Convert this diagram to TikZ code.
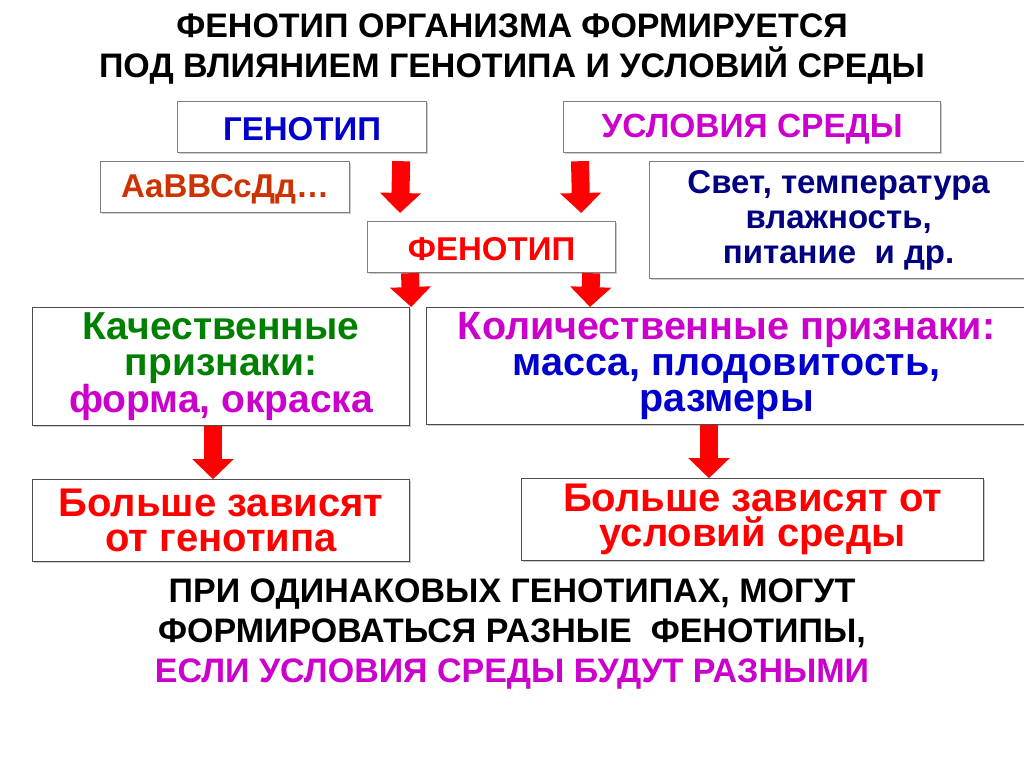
\documentclass[tikz,border=0pt]{standalone}
\usepackage{fontspec}
\setmainfont{Liberation Sans}
\usetikzlibrary{positioning,arrows.meta,shadows}

\definecolor{genblue}{RGB}{0,0,204}
\definecolor{envviolet}{RGB}{204,0,204}
\definecolor{allelebrown}{RGB}{204,51,0}
\definecolor{factornavy}{RGB}{0,0,128}
\definecolor{qualgreen}{RGB}{0,128,0}
\definecolor{phenred}{RGB}{255,0,0}

\tikzset{
  box/.style={draw=black!50, line width=1.2pt, fill=white, anchor=north west,
    inner sep=0pt, align=center,
    drop shadow={shadow xshift=1.2pt, shadow yshift=-1.2pt, fill=black!40}},
  darkbox/.style={box, draw=black!70},
  bigarrow/.style={draw=phenred, line width=18pt,
    -{Triangle[length=20pt,width=40pt]}},
  headline/.style={anchor=north, inner sep=0pt, align=center,
    font=\fontsize{34}{40}\selectfont\bfseries}
}

\begin{document}
\begin{tikzpicture}[x=1pt,y=-1pt]
  \useasboundingbox (0,0) rectangle (1024,767);
  \clip (0,0) rectangle (1024,767);
  \fill[white] (0,0) rectangle (1024,767);

  \node[headline] (title) at (512,14)
    {ФЕНОТИП ОРГАНИЗМА ФОРМИРУЕТСЯ\\ПОД ВЛИЯНИЕМ ГЕНОТИПА И УСЛОВИЙ СРЕДЫ};

  % top row
  \node[box, minimum width=249pt, minimum height=51pt, text=genblue, text height=28pt,
    font=\fontsize{33}{40}\selectfont\bfseries] (gen) at (177,101) {ГЕНОТИП};
  \node[box, minimum width=377pt, minimum height=51pt, text=envviolet, text height=28pt,
    font=\fontsize{33.5}{40}\selectfont\bfseries] (env) at (563,101) {УСЛОВИЯ СРЕДЫ};
  \node[box, minimum width=249pt, minimum height=51pt, text=allelebrown, text height=28pt,
    font=\fontsize{33}{40}\selectfont\bfseries] (alleles) at (100,161) {АаВВСсДд…};
  \node[box, minimum width=378pt, minimum height=117pt, text=factornavy,
    font=\fontsize{33}{35}\selectfont\bfseries] (factors) at (649,161)
    {Свет, температура\\влажность,\\питание~~и др.};
  \node[box, minimum width=248pt, minimum height=51pt, text=phenred, text height=28pt,
    font=\fontsize{33}{40}\selectfont\bfseries] (fen) at (367,221) {ФЕНОТИП};

  % traits
  \node[darkbox, minimum width=377pt, minimum height=118pt, text=qualgreen,
    font=\fontsize{39}{36}\selectfont\bfseries] (qual) at (32,307)
    {Качественные\\признаки:\\\textcolor{envviolet}{форма, окраска}};
  \node[darkbox, minimum width=600pt, minimum height=117pt, text=envviolet,
    font=\fontsize{39.5}{36}\selectfont\bfseries] (quant) at (426,307)
    {Количественные признаки:\\\textcolor{genblue}{масса, плодовитость,}\\\textcolor{genblue}{размеры}};

  % dependence
  \node[darkbox, below=53pt of qual.south west, anchor=north west,
    minimum width=377pt, minimum height=82pt, text=phenred,
    font=\fontsize{40}{35}\selectfont\bfseries] (depg)
    {Больше зависят\\от генотипа};
  \node[darkbox, below=53pt of quant.south west, anchor=north west, xshift=95pt,
    minimum width=462pt, minimum height=82pt, text=phenred,
    font=\fontsize{40}{35}\selectfont\bfseries] (depe)
    {Больше зависят от\\условий среды};

  \node[headline] (note) at (512,579)
    {ПРИ ОДИНАКОВЫХ ГЕНОТИПАХ, МОГУТ\\ФОРМИРОВАТЬСЯ РАЗНЫЕ~~ФЕНОТИПЫ,\\\textcolor{envviolet}{ЕСЛИ УСЛОВИЯ СРЕДЫ БУДУТ РАЗНЫМИ}};

  % arrows
  \draw[bigarrow] ([xshift=-26pt,yshift=-8pt]gen.south east)
    -- ([xshift=33pt,yshift=8pt]fen.north west);
  \draw[bigarrow] ([xshift=17pt,yshift=-8pt]env.south west)
    -- ([xshift=-35pt,yshift=8pt]fen.north east);
  \draw[bigarrow] ([xshift=43pt]fen.south west) -- ([xshift=1pt]qual.north east);
  \draw[bigarrow] ([xshift=-25pt]fen.south east) -- ([xshift=164pt]quant.north west);
  \draw[bigarrow] ([xshift=181pt]qual.south west) -- ([xshift=181pt]depg.north west);
  \draw[bigarrow] ([xshift=283pt]quant.south west) -- ([xshift=188pt]depe.north west);
\end{tikzpicture}
\end{document}
